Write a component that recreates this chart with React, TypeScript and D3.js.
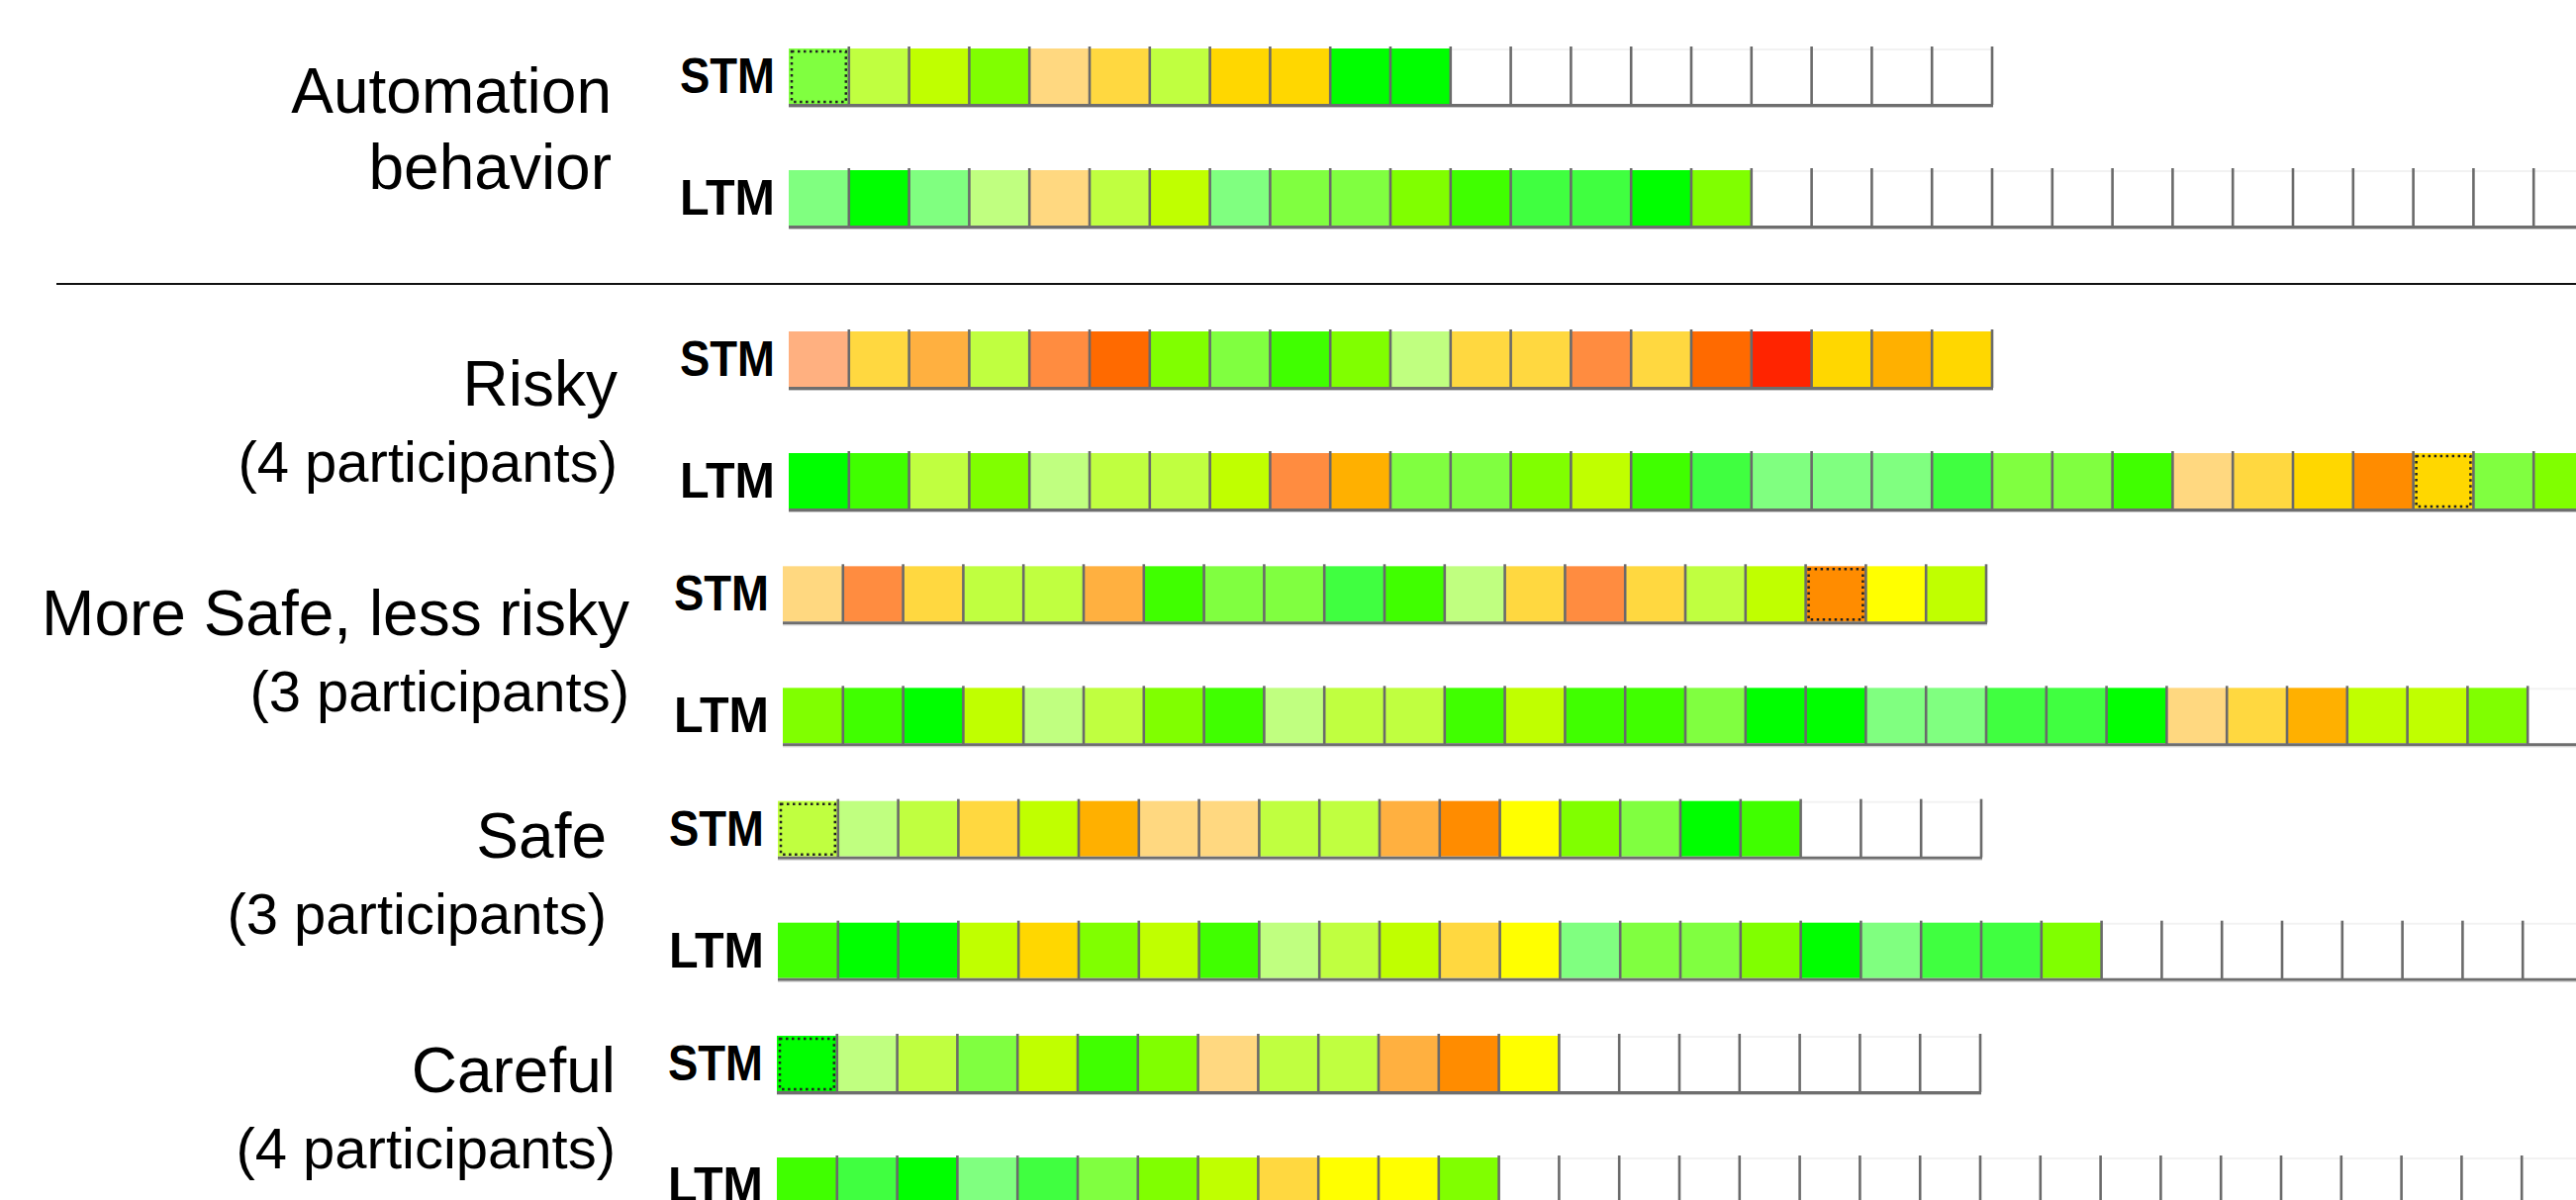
import * as d3 from 'd3';

const WIDTH = 2603;
const HEIGHT = 1213;

const STM_SLOTS = 20;
const LTM_SLOTS = 30;

// colour classes of a cell, green = good ... red = bad
const colourCodes = ['g0', 'g1', 'g2', 'h0', 'c0', 'c1', 'l0', 'l1', 'l2', 'y0', 'd0', 'd1', 'd2', 'a0', 'a1', 'p2', 'o0', 'o1', 'r0', 'R0'];
const colourValues = ['#00ff00', '#40ff40', '#80ff80', '#40ff00', '#80ff00', '#80ff40', '#c0ff00', '#c0ff40', '#c0ff80', '#ffff00', '#ffd700', '#ffd840', '#ffd880', '#ffb000', '#ffb040', '#ffb080', '#ff8c00', '#ff8c40', '#ff6a00', '#ff2400'];

const groupLabels = [
  ['Automation', 'behavior'],
  ['Risky', '(4 participants)'],
  ['More Safe, less risky', '(3 participants)'],
  ['Safe', '(3 participants)'],
  ['Careful', '(4 participants)'],
];

const automationSTM = ['c1', 'l1', 'l0', 'c0', 'd2', 'd1', 'l1', 'd0', 'd0', 'g0', 'g0'];
const automationLTM = ['g2', 'g0', 'g2', 'l2', 'd2', 'l1', 'l0', 'g2', 'c1', 'c1', 'c0', 'h0', 'g1', 'g1', 'g0', 'c0'];
const riskySTM = ['p2', 'd1', 'a1', 'l1', 'o1', 'r0', 'c0', 'c1', 'h0', 'c0', 'l2', 'd1', 'd1', 'o1', 'd1', 'r0', 'R0', 'd0', 'a0', 'd0'];
const riskyLTM = ['g0', 'h0', 'l1', 'c0', 'l2', 'l1', 'l1', 'l0', 'o1', 'a0', 'c1', 'c1', 'c0', 'l0', 'h0', 'g1', 'g2', 'g2', 'g2', 'g1', 'c1', 'c1', 'h0', 'd2', 'd1', 'd0', 'o0', 'd0', 'c1', 'c0'];
const moreSafeSTM = ['d2', 'o1', 'd1', 'l1', 'l1', 'a1', 'h0', 'c1', 'c1', 'g1', 'h0', 'l2', 'd1', 'o1', 'd1', 'l1', 'l0', 'o0', 'y0', 'l0'];
const moreSafeLTM = ['c0', 'h0', 'g0', 'l0', 'l2', 'l1', 'c0', 'h0', 'l2', 'l1', 'l1', 'h0', 'l0', 'h0', 'h0', 'c1', 'g0', 'g0', 'g2', 'g2', 'g1', 'g1', 'g0', 'd2', 'd1', 'a0', 'l0', 'l0', 'c0'];
const safeSTM = ['l1', 'l2', 'l1', 'd1', 'l0', 'a0', 'd2', 'd2', 'l1', 'l1', 'a1', 'o0', 'y0', 'c0', 'c1', 'g0', 'h0'];
const safeLTM = ['h0', 'g0', 'g0', 'l0', 'd0', 'c0', 'l0', 'h0', 'l2', 'l1', 'l0', 'd1', 'y0', 'g2', 'c1', 'c1', 'c0', 'g0', 'g2', 'g1', 'g1', 'c0'];
const carefulSTM = ['g0', 'l2', 'l1', 'c1', 'l0', 'h0', 'c0', 'd2', 'l1', 'l1', 'a1', 'o0', 'y0'];
const carefulLTM = ['h0', 'g1', 'g0', 'g2', 'g1', 'c1', 'c0', 'l0', 'd1', 'y0', 'y0', 'c0'];

// cell with a dotted frame in each row (-1 = none)
const stmMarked = [0, -1, 17, 0, 0];
const ltmMarked = [-1, 27, -1, -1, -1];

const stmRows = [automationSTM, riskySTM, moreSafeSTM, safeSTM, carefulSTM];
const ltmRows = [automationLTM, riskyLTM, moreSafeLTM, safeLTM, carefulLTM];

// layout (the source figure was pasted together, so groups sit slightly apart)
const CELL_W = 60.8;
const CELL_H = 56;
const rowX = [797, 797, 791, 786, 785];
const labelRight = [618, 624, 636, 613, 622];
const labelDy = [65, 75, 70, 57, 57];
const LTM_DY = 123;
const FONT = '"Liberation Sans", Arial, sans-serif';

const colour = d3.scaleOrdinal<string, string>().domain(colourCodes).range(colourValues).unknown('#ffffff');
const x = d3.scaleLinear().domain([0, LTM_SLOTS]).range([0, LTM_SLOTS * CELL_W]);
const yGroup = d3.scaleLinear().domain([1, 4]).range([335, 1047]);

interface RowProps {
  name: string;
  codes: string[];
  slots: number;
  x0: number;
  top: number;
  marked: number;
}

const Row = ({ name, codes, slots, x0, top, marked }: RowProps) => {
  const cells = d3.range(slots);
  return (
    <g transform={`translate(${x0},${top})`}>
      <text
        x={-14}
        y={45}
        textAnchor="end"
        fontFamily={FONT}
        fontWeight="bold"
        fontSize={50}
        textLength={96}
        lengthAdjust="spacingAndGlyphs"
      >
        {name}
      </text>
      {cells.map((i) => (
        <rect key={i} x={x(i)} y={0} width={x(i + 1) - x(i)} height={CELL_H} fill={colour(codes[i] ?? '')} />
      ))}
      {cells.map((i) =>
        codes[i] ? null : (
          <line key={'t' + i} x1={x(i)} x2={x(i + 1)} y1={1} y2={1} stroke="#000" strokeOpacity={0.05} strokeWidth={2} />
        ),
      )}
      {marked >= 0 && (
        <rect
          x={x(marked) + 3}
          y={3}
          width={x(marked + 1) - x(marked) - 6}
          height={CELL_H - 5}
          fill="none"
          stroke="#222"
          strokeWidth={2.5}
          strokeDasharray="2.5 3.5"
        />
      )}
      {cells.map((i) => (
        <line key={'v' + i} x1={x(i + 1)} x2={x(i + 1)} y1={-2} y2={CELL_H + 1} stroke="#6a6a6a" strokeWidth={2.6} />
      ))}
      <line x1={0} x2={x(slots) + 1} y1={CELL_H + 1.5} y2={CELL_H + 1.5} stroke="#6e6e6e" strokeWidth={3} />
      <line x1={0} x2={x(slots) + 1} y1={CELL_H + 3.5} y2={CELL_H + 3.5} stroke="#c8c8c8" strokeWidth={1} />
    </g>
  );
};

export default function App() {
  return (
    <svg
      width={WIDTH}
      height={HEIGHT}
      style={{ position: 'absolute', left: 0, top: 0, background: '#fff' }}
    >
      <line x1={57} x2={WIDTH} y1={287} y2={287} stroke="#111" strokeWidth={2} />
      {groupLabels.map((lines, g) => {
        const top = g === 0 ? 49 : yGroup(g);
        return (
          <g key={g}>
            {lines.map((t, k) => (
              <text
                key={k}
                x={labelRight[g]}
                y={top + labelDy[g] + k * 77}
                textAnchor="end"
                fontFamily={FONT}
                fontSize={g > 0 && k === 1 ? 58 : 64}
                fill="#000"
              >
                {t}
              </text>
            ))}
            <Row name="STM" codes={stmRows[g]} slots={STM_SLOTS} x0={rowX[g]} top={top} marked={stmMarked[g]} />
            <Row name="LTM" codes={ltmRows[g]} slots={LTM_SLOTS} x0={rowX[g]} top={top + LTM_DY} marked={ltmMarked[g]} />
          </g>
        );
      })}
    </svg>
  );
}
